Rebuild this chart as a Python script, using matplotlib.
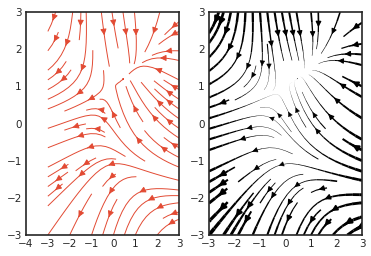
import numpy as np
import matplotlib
matplotlib.use("Agg")
import matplotlib.pyplot as plt

# vector field on a 100x100 grid
Y, X = np.mgrid[-3:3:100j, -3:3:100j]
U = -1 - X**2 + Y
V = 1 + X - Y**2
speed = np.sqrt(U * U + V * V)

x_ticks_left = [-4, -3, -2, -1, 0, 1, 2, 3]
x_ticks_right = [-3, -2, -1, 0, 1, 2, 3]
y_ticks = [-3, -2, -1, 0, 1, 2, 3]

fig = plt.figure(figsize=(3.71, 2.56), dpi=100)
ax1 = fig.add_axes([26/371, 21/256, 153/371, 223/256])
ax2 = fig.add_axes([209/371, 21/256, 153/371, 223/256])

ax1.streamplot(X, Y, U, V, density=[0.45, 0.8], color='#E24A33',
               linewidth=0.7, arrowsize=0.9)
ax1.set_xlim(-4, 3)
ax1.set_ylim(-3, 3)
ax1.set_xticks(x_ticks_left)
ax1.set_yticks(y_ticks)

ax2.streamplot(X, Y, U, V, density=0.75, color='k',
               linewidth=3 * speed / speed.max(), arrowsize=0.8)
ax2.set_xlim(-3, 3)
ax2.set_ylim(-3, 3)
ax2.set_xticks(x_ticks_right)
ax2.set_yticks(y_ticks)

for ax in (ax1, ax2):
    ax.tick_params(length=0, labelsize=7.5, colors='#262626', pad=3)
    for s in ax.spines.values():
        s.set_color('#262626')
        s.set_linewidth(1.2)

fig.savefig('out.png', dpi=100)
